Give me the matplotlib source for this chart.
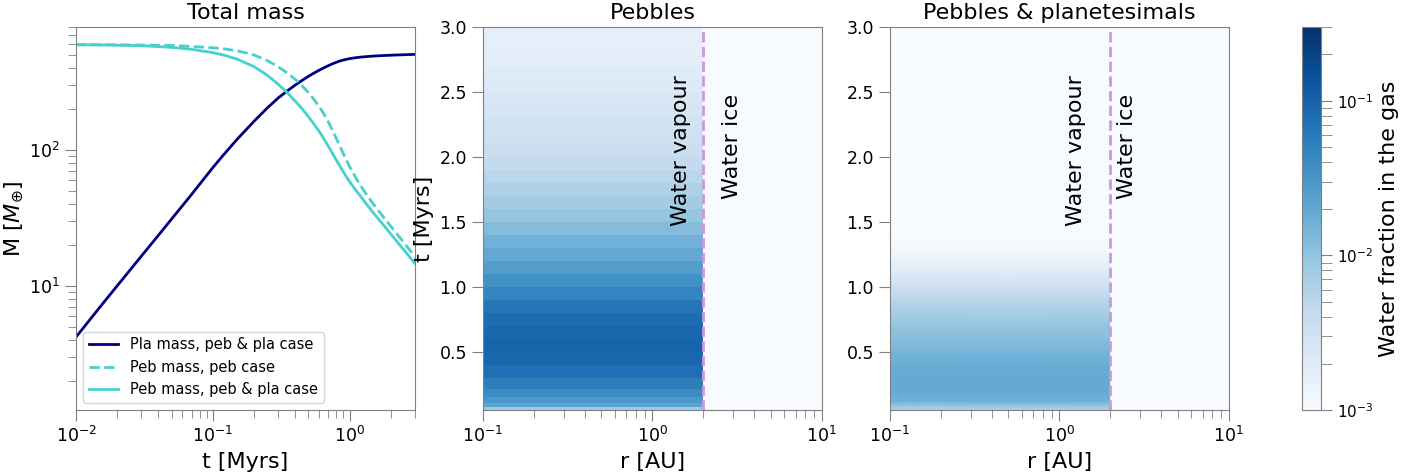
import numpy as np
import matplotlib.pyplot as plt
from matplotlib.colors import LogNorm

# Total mass curves [M_earth] vs time [Myrs]
t_curve = [0.01, 0.015, 0.02, 0.03, 0.04, 0.05, 0.07, 0.1, 0.12, 0.15, 0.2,
           0.25, 0.3, 0.35, 0.4, 0.45, 0.5, 0.55, 0.6, 0.65, 0.7, 0.75, 0.8,
           0.85, 0.9, 0.95, 1.0, 1.1, 1.2, 1.35, 1.5, 1.75, 2.0, 2.5, 3.0]
m_pla = [4.2, 7.0, 10.0, 16.5, 23.5, 31, 47, 74, 92, 119, 162,
         203, 240, 271, 299, 324, 347, 367, 385, 401, 416, 429, 440,
         450, 457, 463, 468, 475, 480, 485, 489, 493, 496, 500, 503]
m_peb_only = [592, 592, 591, 589, 587, 585, 575, 563, 553, 535, 498,
              453, 408, 367, 330, 295, 263, 234, 207.5, 182.5, 159.7, 139.1, 121.1,
              106, 93.4, 83.4, 75.3, 63.1, 54.7, 45.8, 39.6, 32.4, 27.4, 20.7, 16.4]
m_peb_both = [592, 590, 588, 582, 574, 566, 548, 518, 497, 465, 409,
              353, 304, 263, 228, 200, 175, 154, 136, 120, 106, 94, 84,
              75.7, 68.7, 63.0, 58.3, 51.1, 45.6, 39.1, 34.1, 28.3, 24.0, 18.3, 14.6]

# water fraction in the gas inside the snow line, pebbles only case
t_peb = [0.06, 0.09, 0.125, 0.175, 0.25, 0.35, 0.45, 0.55, 0.65, 0.75,
         0.85, 0.95, 1.05, 1.15, 1.25, 1.35, 1.45, 1.55, 1.65, 1.75,
         1.85, 1.95, 2.05, 2.15, 2.25, 2.35, 2.45, 2.55, 2.65, 2.75,
         2.85, 2.95]
w_peb = [0.008, 0.022, 0.03, 0.04, 0.055, 0.075, 0.09, 0.095, 0.09, 0.078,
         0.065, 0.048, 0.036, 0.027, 0.020, 0.016, 0.012, 0.0095, 0.0078, 0.0063,
         0.0052, 0.0043, 0.0037, 0.0033, 0.0030, 0.0027, 0.0024, 0.0022, 0.0020, 0.0018,
         0.0017, 0.0016]

# pebbles & planetesimals case
t_pp = [0.05, 0.08, 0.12, 0.2, 0.3, 0.4, 0.5, 0.6, 0.7, 0.8, 0.9, 1.0,
        1.1, 1.2, 1.3, 1.4, 1.6, 2.0, 2.5, 3.0]
w_pp = [0.006, 0.009, 0.016, 0.019, 0.019, 0.018, 0.0146, 0.0117, 0.0095, 0.0072,
        0.0052, 0.0035, 0.0021, 0.0015, 0.0011, 0.0009, 0.0008, 0.0008, 0.0008, 0.0008]

r_snow = 2.0
w_outside = 1e-4


def style(ax):
    for s in ax.spines.values():
        s.set_color('gray')
    ax.tick_params(which='both', colors='gray', labelcolor='black', labelsize=12.5)
    ax.tick_params(which='major', length=8)
    ax.tick_params(which='minor', length=6)


fig = plt.figure(figsize=(14.18, 4.73), dpi=100)
ax1 = fig.add_axes([0.0536, 0.133, 0.239, 0.81])
ax2 = fig.add_axes([0.3406, 0.133, 0.239, 0.81])
ax3 = fig.add_axes([0.6276, 0.133, 0.239, 0.81])
cax = fig.add_axes([0.918, 0.133, 0.0134, 0.81])

# --- total mass
ax1.loglog(t_curve, m_pla, color='navy', lw=2, label='Pla mass, peb & pla case')
ax1.loglog(t_curve, m_peb_only, color='mediumturquoise', ls='--', lw=2, label='Peb mass, peb case')
ax1.loglog(t_curve, m_peb_both, color='mediumturquoise', lw=2, label='Peb mass, peb & pla case')
ax1.set_xlim(0.01, 3)
ax1.set_ylim(1.22, 800)
ax1.set_title('Total mass', fontsize=16)
ax1.set_xlabel('t [Myrs]', fontsize=16)
ax1.set_ylabel(r'M [$M_{\oplus}$]', fontsize=16, labelpad=2)
ax1.legend(loc='lower left', fontsize=10.5)
style(ax1)

norm = LogNorm(vmin=1e-3, vmax=0.3)

# --- pebbles: stepped bands
t_peb_arr = np.array(t_peb)
t_edges = np.concatenate([[0.05], (t_peb_arr[1:] + t_peb_arr[:-1]) / 2, [3.0]])
r_edges = [0.1, r_snow, 10]
Z_peb = np.column_stack([w_peb, np.full(len(w_peb), w_outside)])
mesh = ax2.pcolormesh(r_edges, t_edges, Z_peb, cmap='Blues', norm=norm, shading='flat')

# --- pebbles & planetesimals: smooth
r_nodes = [0.1, r_snow * 0.995, r_snow * 1.005, 10]
Z_pp = np.column_stack([w_pp, w_pp, np.full(len(w_pp), w_outside), np.full(len(w_pp), w_outside)])
ax3.pcolormesh(r_nodes, t_pp, Z_pp, cmap='Blues', norm=norm, shading='gouraud')

titles = ['Pebbles', 'Pebbles & planetesimals']
vap_pos = [1.48, 1.26]
ice_pos = [2.95, 2.5]
for ax, title, rv, ri in zip([ax2, ax3], titles, vap_pos, ice_pos):
    ax.set_xscale('log')
    ax.set_xlim(0.1, 10)
    ax.set_ylim(0.05, 3.0)
    ax.axvline(r_snow, color='#cc99dd', ls='--', lw=2)
    ax.text(rv, 2.05, 'Water vapour', rotation=90, fontsize=16, ha='center', va='center')
    ax.text(ri, 2.08, 'Water ice', rotation=90, fontsize=16, ha='center', va='center')
    ax.set_title(title, fontsize=16)
    ax.set_xlabel('r [AU]', fontsize=16)
    style(ax)
ax2.set_ylabel('t [Myrs]', fontsize=16)

cb = fig.colorbar(mesh, cax=cax)
cb.set_label('Water fraction in the gas', fontsize=16)
cb.outline.set_edgecolor('gray')
cb.ax.tick_params(which='both', colors='gray', labelcolor='black', labelsize=11, length=8)

fig.savefig('out.png', dpi=100)
